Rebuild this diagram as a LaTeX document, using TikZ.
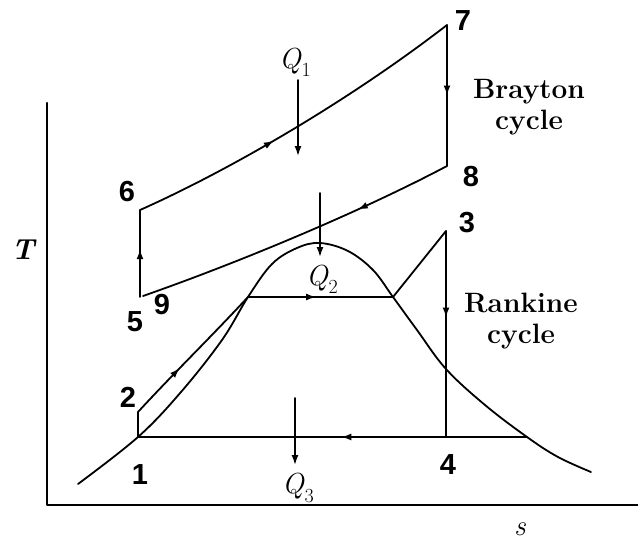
\documentclass[tikz,border=0pt]{standalone}
\usepackage{fontspec}
\newfontfamily\numfont{Liberation Sans}
\usetikzlibrary{arrows.meta,decorations.markings}
\newcommand{\qsym}[1]{\textit{Q}\raisebox{-0.28em}{\fontsize{20}{20}\selectfont #1}}
\begin{document}
\begin{tikzpicture}[x=1pt,y=-1pt,line cap=round,line join=round,
  curve/.style={line width=1.8pt},
  axisline/.style={line width=2.4pt},
  midarrow/.style={postaction={decorate},decoration={markings,
     mark=at position #1 with {\arrow{Latex[length=10pt,width=7pt]}}}},
  heat/.style={line width=1.6pt,-{Latex[length=10pt,width=7pt]}},
  num/.style={font=\numfont\bfseries\fontsize{29}{29}\selectfont,inner sep=0pt},
  qlab/.style={font=\fontsize{29}{29}\selectfont,inner sep=0pt},
  cyc/.style={font=\bfseries\fontsize{28}{31}\selectfont,align=center,inner sep=0pt}]
\useasboundingbox (0,0) rectangle (638,541);

% axes
\coordinate (O) at (47,505);
\coordinate (Ytop) at (47,103);
\coordinate (Xend) at (640,505);
\draw[axisline] (Ytop) -- (O) -- (Xend);
\node[qlab] (Tlab) at (23,250) {\bfseries\itshape T};
\node[qlab] (slab) at (520,529) {\itshape s};

% state points
\coordinate (p1) at (138,437);
\coordinate (p2) at (138,412);
\coordinate (p3) at (446,231);
\coordinate (p4) at (446,437);
\coordinate (p5) at (140,297);
\coordinate (p6) at (140,210);
\coordinate (p7) at (447,25);
\coordinate (p8) at (447,166);
\coordinate (p9) at (143,296);
\coordinate (f) at (248,297);
\coordinate (g) at (393,297);
\coordinate (w) at (527,437);

% saturation dome
\draw[curve] plot[smooth,tension=0.6] coordinates {(78,484) (138,437) (181,392) (222,340) (248,297) (272,264) (297,248) (320,243) (348,251) (373,270) (393,297) (417,330) (446,369) (485,405) (527,437) (558,457) (591,472)};

% Rankine cycle
\draw[curve] (p1) -- (p2);
\draw[curve,midarrow=0.38] (p2) .. controls (172,375) and (210,338) .. (f);
\draw[curve,midarrow=0.47] (f) -- (g);
\draw[curve] (g) -- (p3);
\draw[curve,midarrow=0.42] (p3) -- (p4);
\draw[curve] (w) -- (p4);
\draw[curve,midarrow=0.34] (p4) -- (p1);

% Brayton cycle
\draw[curve,midarrow=0.55] (p5) -- (p6);
\draw[curve,midarrow=0.42] (p6) .. controls (230,170) and (350,100) .. (p7);
\draw[curve,midarrow=0.5] (p7) -- (p8);
\draw[curve,midarrow=0.3] (p8) .. controls (360,212) and (240,262) .. (p9);

% heat arrows
\node[qlab] (Q1) at (295,62) {\qsym{1}};
\coordinate (q1s) at (298,80);
\coordinate (q1e) at (298,156);
\draw[heat] (q1s) -- (q1e);
\node[qlab] (Q2) at (322,279) {\qsym{2}};
\coordinate (q2s) at (320,193);
\coordinate (q2e) at (320,257);
\draw[heat] (q2s) -- (q2e);
\node[qlab] (Q3) at (298,488) {\qsym{3}};
\coordinate (q3s) at (295,398);
\coordinate (q3e) at (295,465);
\draw[heat] (q3s) -- (q3e);

% point labels
\node[num] (l1) at (140,475) {1};
\node[num] (l2) at (128,397) {2};
\node[num] (l3) at (467,223) {3};
\node[num] (l4) at (448,465) {4};
\node[num] (l5) at (135,322) {5};
\node[num] (l6) at (127,192) {6};
\node[num] (l7) at (463,21) {7};
\node[num] (l8) at (471,177) {8};
\node[num] (l9) at (162,305) {9};

% cycle names
\node[cyc] (bray) at (529,107) {Brayton\\cycle};
\node[cyc] (rank) at (521,321) {Rankine\\cycle};
\end{tikzpicture}
\end{document}
